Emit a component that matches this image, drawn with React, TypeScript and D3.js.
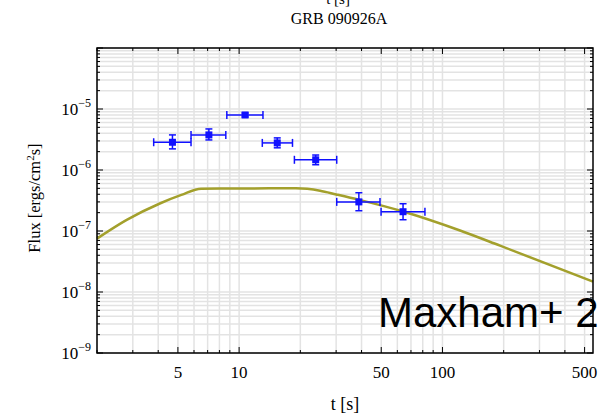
import React from "react";
import * as d3 from "d3";

const W = 599;
const H = 414;

// data points (t, flux) with error ranges
const pointT = [4.7, 7.1, 10.7, 15.4, 23.8, 38.8, 64];
const pointTLo = [3.8, 5.8, 8.7, 13.0, 18.7, 30.2, 49.9];
const pointTHi = [5.8, 8.6, 13.1, 18.3, 30.2, 49.3, 82];
const pointF = [2.85e-6, 3.76e-6, 7.98e-6, 2.78e-6, 1.47e-6, 3.0e-7, 2.07e-7];
const pointFLo = [2.22e-6, 3.11e-6, 7.4e-6, 2.31e-6, 1.22e-6, 2.15e-7, 1.53e-7];
const pointFHi = [3.76e-6, 4.71e-6, 8.6e-6, 3.36e-6, 1.76e-6, 4.24e-7, 2.8e-7];

// model curve
const curveT = [2, 2.8, 4.1, 5.2, 6.5, 10, 14, 19, 25, 30, 39, 64, 122, 192, 550];
const curveF = [7.5e-8, 1.52e-7, 2.85e-7, 3.9e-7, 4.95e-7, 4.96e-7, 5.0e-7, 5.0e-7, 4.57e-7, 3.98e-7, 3.24e-7, 2.09e-7, 1.02e-7, 5.75e-8, 1.48e-8];

const xMajor = [5, 10, 50, 100, 500];
const yMajorExp = [-9, -8, -7, -6, -5];

const serif = "'Liberation Serif', 'DejaVu Serif', serif";

export default function App() {
  const left = 97, right = 593, top = 48, bottom = 353;
  const x = d3.scaleLog().domain([2, 550]).range([left, right]);
  const y = d3.scaleLog().domain([1e-9, 1e-4]).range([bottom, top]);
  const xTicks = x.ticks();
  const yTicks = y.ticks();
  const isMajorX = (v: number) => xMajor.some((m) => Math.abs(m - v) / m < 1e-6);
  const isMajorY = (v: number) => Math.abs(Math.log10(v) - Math.round(Math.log10(v))) < 1e-6;

  const line = d3
    .line<number>()
    .x((_, i) => x(curveT[i]))
    .y((d) => y(d))
    .curve(d3.curveMonotoneX);

  const grid = "#e3e3e3";
  const blue = "#1010ff";

  return (
    <svg
      width={W}
      height={H}
      style={{ position: "absolute", left: 0, top: 0, background: "#fff" }}
    >
      <rect x={0} y={0} width={W} height={H} fill="#fff" />
      {/* cut-off label above title */}
      <text x={338} y={4} textAnchor="middle" fontFamily={serif} fontSize={15}>
        t [s]
      </text>
      <text x={339} y={24} textAnchor="middle" fontFamily={serif} fontSize={16}>
        GRB 090926A
      </text>

      {/* grid */}
      {xTicks.map((v, i) => (
        <line key={"gx" + i} x1={x(v)} x2={x(v)} y1={top} y2={bottom} stroke={grid} strokeWidth={1.5} />
      ))}
      {yTicks.map((v, i) => (
        <line key={"gy" + i} x1={left} x2={right} y1={y(v)} y2={y(v)} stroke={grid} strokeWidth={1.5} />
      ))}

      {/* ticks */}
      {xTicks.map((v, i) => {
        const len = isMajorX(v) ? 6 : 3;
        return (
          <g key={"tx" + i} stroke="#000" strokeWidth={1}>
            <line x1={x(v)} x2={x(v)} y1={bottom} y2={bottom - len} />
            <line x1={x(v)} x2={x(v)} y1={top} y2={top + len} />
          </g>
        );
      })}
      {yTicks.map((v, i) => {
        const len = isMajorY(v) ? 6 : 3;
        return (
          <g key={"ty" + i} stroke="#000" strokeWidth={1}>
            <line x1={left} x2={left + len} y1={y(v)} y2={y(v)} />
            <line x1={right} x2={right - len} y1={y(v)} y2={y(v)} />
          </g>
        );
      })}

      {/* model curve */}
      <path d={line(curveF) || ""} fill="none" stroke="#a3a02c" strokeWidth={2.5} />

      {/* data points */}
      {pointT.map((t, i) => {
        const cx = x(t), cy = y(pointF[i]);
        const x0 = x(pointTLo[i]), x1 = x(pointTHi[i]);
        const y0 = y(pointFLo[i]), y1 = y(pointFHi[i]);
        return (
          <g key={"p" + i} stroke={blue} strokeWidth={1.5} fill={blue}>
            <line x1={x0} x2={x1} y1={cy} y2={cy} />
            <line x1={x0} x2={x0} y1={cy - 4} y2={cy + 4} />
            <line x1={x1} x2={x1} y1={cy - 4} y2={cy + 4} />
            <line x1={cx} x2={cx} y1={y0} y2={y1} />
            <line x1={cx - 3.5} x2={cx + 3.5} y1={y0} y2={y0} />
            <line x1={cx - 3.5} x2={cx + 3.5} y1={y1} y2={y1} />
            <rect x={cx - 3.5} y={cy - 3.5} width={7} height={7} stroke="none" />
          </g>
        );
      })}

      {/* frame */}
      <rect x={left} y={top} width={right - left} height={bottom - top} fill="none" stroke="#000" strokeWidth={1.5} />

      {/* x tick labels */}
      {xMajor.map((v, i) => (
        <text key={"xl" + i} x={x(v)} y={378} textAnchor="middle" fontFamily={serif} fontSize={17}>
          {v}
        </text>
      ))}
      {/* y tick labels */}
      {yMajorExp.map((e, i) => (
        <text key={"yl" + i} x={91} y={y(Math.pow(10, e)) + 6} textAnchor="end" fontFamily={serif} fontSize={17}>
          10
          <tspan fontSize={12} dy={-8}>
            {"\u2212" + Math.abs(e)}
          </tspan>
        </text>
      ))}

      {/* axis labels */}
      <text x={345} y={410} textAnchor="middle" fontFamily={serif} fontSize={18}>
        t [s]
      </text>
      <text
        transform={`translate(40,198) rotate(-90)`}
        textAnchor="middle"
        fontFamily={serif}
        fontSize={16.5}
      >
        Flux [ergs/cm
        <tspan fontSize={11} dy={-6}>2</tspan>
        <tspan dy={6}>s]</tspan>
      </text>

      <text x={378} y={327} fontFamily="'Liberation Sans', Arial, sans-serif" fontSize={42} fill="#000">
        Maxham+ 2
      </text>
    </svg>
  );
}
